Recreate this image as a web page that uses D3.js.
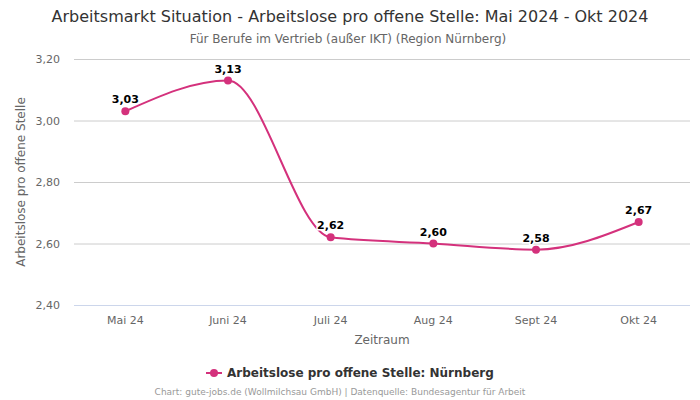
<!DOCTYPE html>
<html><head><meta charset="utf-8">
<script src="https://cdn.jsdelivr.net/npm/d3@7"></script>
<style>body{margin:0;background:#fff;font-family:"DejaVu Sans",sans-serif;}</style>
</head><body><svg id="c" width="700" height="400"></svg>
<script>
const categories = ["Mai 24","Juni 24","Juli 24","Aug 24","Sept 24","Okt 24"];
const values = [3.03, 3.13, 2.62, 2.60, 2.58, 2.67];
const yTicks = [2.40, 2.60, 2.80, 3.00, 3.20];
const title = "Arbeitsmarkt Situation - Arbeitslose pro offene Stelle: Mai 2024 - Okt 2024";
const subtitle = "Für Berufe im Vertrieb (außer IKT) (Region Nürnberg)";
const seriesName = "Arbeitslose pro offene Stelle: Nürnberg";
const color = "#d4317c";
const fmt = v => v.toFixed(2).replace(".", ",");

const svg = d3.select("#c");
const m = {l:74, r:690, t:59, b:305};
const x = d3.scaleBand().domain(categories).range([m.l, m.r]);
const y = d3.scaleLinear().domain([2.4, 3.2]).range([m.b, m.t]);

svg.append("text").attr("x",350).attr("y",22).attr("text-anchor","middle")
  .attr("font-size",16).attr("fill","#333").text(title);
svg.append("text").attr("x",348).attr("y",43).attr("text-anchor","middle")
  .attr("font-size",12).attr("fill","#666").text(subtitle);

// grid
const gy = svg.append("g").attr("transform",`translate(${m.l},0)`)
  .call(d3.axisLeft(y).tickValues(yTicks).tickSize(-(m.r-m.l)).tickFormat(fmt));
gy.select(".domain").remove();
gy.selectAll(".tick line").attr("stroke","#cccccc");
gy.selectAll(".tick").filter(d=>d===2.4).select("line").attr("stroke","#ccd6eb");
gy.selectAll(".tick text").attr("x",-14).attr("fill","#666").attr("font-size",11).attr("font-family","DejaVu Sans, sans-serif");

const gx = svg.append("g").attr("transform",`translate(0,${m.b})`)
  .call(d3.axisBottom(x).tickSize(0));
gx.select(".domain").remove();
gx.selectAll(".tick text").attr("dy","1.45em").attr("fill","#666").attr("font-size",11).attr("font-family","DejaVu Sans, sans-serif");

svg.append("text").attr("x",(m.l+m.r)/2).attr("y",344).attr("text-anchor","middle")
  .attr("font-size",12).attr("fill","#666").text("Zeitraum");
svg.append("text").attr("transform",`translate(25,${(m.t+m.b)/2}) rotate(-90)`).attr("text-anchor","middle")
  .attr("font-size",12).attr("fill","#666").text("Arbeitslose pro offene Stelle");

const cx = d => x(d) + x.bandwidth()/2;
const line = d3.line().x((d,i)=>cx(categories[i])).y(d=>y(d)).curve(d3.curveMonotoneX);
svg.append("path").datum(values).attr("d",line).attr("fill","none").attr("stroke",color).attr("stroke-width",2);
svg.selectAll("circle.p").data(values).join("circle").attr("class","p")
  .attr("cx",(d,i)=>cx(categories[i])).attr("cy",d=>y(d)).attr("r",4).attr("fill",color);
svg.selectAll("text.lbl").data(values).join("text").attr("class","lbl")
  .attr("x",(d,i)=>cx(categories[i])).attr("y",d=>y(d)-8).attr("text-anchor","middle")
  .attr("font-size",11).attr("font-weight","bold").attr("fill","#000")
  .attr("stroke","#fff").attr("stroke-width",3).attr("paint-order","stroke").text(fmt);

// legend
const lg = svg.append("g");
lg.append("line").attr("x1",206).attr("x2",222).attr("y1",373).attr("y2",373).attr("stroke",color).attr("stroke-width",2);
lg.append("circle").attr("cx",214).attr("cy",373).attr("r",4).attr("fill",color);
lg.append("text").attr("x",227).attr("y",377).attr("font-size",12).attr("font-weight","bold").attr("fill","#333").text(seriesName);

svg.append("text").attr("x",340).attr("y",395).attr("text-anchor","middle")
  .attr("font-size",9).attr("fill","#999").text("Chart: gute-jobs.de (Wollmilchsau GmbH) | Datenquelle: Bundesagentur für Arbeit");
</script></body></html>
